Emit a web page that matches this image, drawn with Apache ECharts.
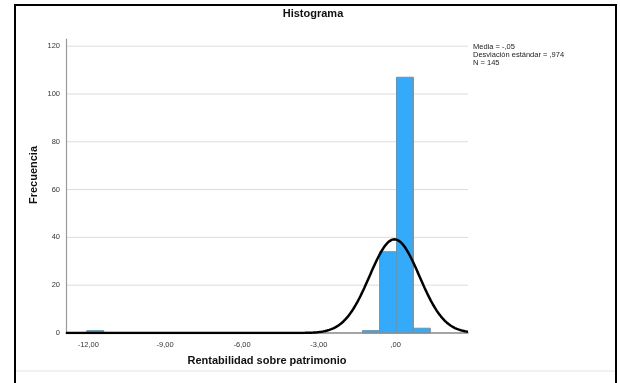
<!DOCTYPE html>
<html>
<head>
<meta charset="utf-8">
<script src="https://cdn.jsdelivr.net/npm/echarts@6/dist/echarts.min.js"></script>
<style>
  html, body { margin: 0; padding: 0; background: #fff; }
  #chart { width: 620px; height: 383px; }
</style>
</head>
<body>
<div id="chart"></div>
<script>
// Histogram bins: left edge of each bin and its count
const binStarts = [-12.06, -1.30, -0.63, 0.03, 0.69];
const binCounts = [1, 1, 34, 107, 2];
const binWidth = 0.66;

// Summary statistics shown in the side note and used for the normal curve
const media = -0.05;
const desviacion = 0.974;
const n = 145;

// Axis ticks
const xTickValues = [-12, -9, -6, -3, 0];
const xTickLabels = ['-12,00', '-9,00', '-6,00', '-3,00', ',00'];
const yTickValues = [0, 20, 40, 60, 80, 100, 120];

const xMin = -12.87, xMax = 2.82;

// Fitted normal curve scaled to the histogram (count per bin)
const curve = [];
const steps = 400;
for (let i = 0; i <= steps; i++) {
  const x = xMin + (xMax - xMin) * i / steps;
  const z = (x - media) / desviacion;
  const y = n * binWidth / (desviacion * Math.sqrt(2 * Math.PI)) * Math.exp(-0.5 * z * z);
  curve.push([x, y]);
}

const bars = binStarts.map((s, i) => [s, s + binWidth, binCounts[i]]);

const chart = echarts.init(document.getElementById('chart'), null, { renderer: 'canvas' });
const font = '"Liberation Sans", Arial, sans-serif';

chart.setOption({
  animation: false,
  backgroundColor: '#fff',
  grid: { left: 66, right: 152, top: 39, bottom: 50 },
  xAxis: {
    type: 'value',
    min: xMin,
    max: xMax,
    axisLine: { show: true, onZero: false, lineStyle: { color: '#888', width: 1.5 } },
    axisTick: { show: false },
    splitLine: { show: false },
    axisLabel: {
      customValues: xTickValues,
      formatter: v => xTickLabels[xTickValues.indexOf(v)],
      fontFamily: font, fontSize: 7.5, color: '#333', margin: 8
    }
  },
  yAxis: {
    type: 'value',
    min: 0,
    max: 123,
    axisLine: { show: true, onZero: false, lineStyle: { color: '#999', width: 1.2 } },
    axisTick: { show: false },
    axisLabel: {
      customValues: yTickValues,
      fontFamily: font, fontSize: 7.5, color: '#333', margin: 6
    },
    splitLine: { show: false }
  },
  series: [
    {
      // horizontal reference lines at each y tick
      type: 'custom',
      silent: true,
      z: 0,
      data: yTickValues.filter(v => v > 0).map(v => [v]),
      renderItem: (params, api) => {
        const p0 = api.coord([xMin, api.value(0)]);
        const p1 = api.coord([xMax, api.value(0)]);
        return {
          type: 'line',
          shape: { x1: p0[0], y1: p0[1], x2: p1[0], y2: p1[1] },
          style: { stroke: '#dcdcdc', lineWidth: 1 }
        };
      }
    },
    {
      type: 'custom',
      z: 2,
      data: bars,
      renderItem: (params, api) => {
        const a = api.coord([api.value(0), api.value(2)]);
        const b = api.coord([api.value(1), 0]);
        return {
          type: 'rect',
          shape: { x: a[0], y: a[1], width: b[0] - a[0], height: b[1] - a[1] },
          style: { fill: '#33abfa', stroke: '#8a8a8a', lineWidth: 1 }
        };
      }
    },
    {
      type: 'line',
      z: 3,
      data: curve,
      showSymbol: false,
      smooth: false,
      lineStyle: { color: '#000', width: 2.5 }
    }
  ],
  graphic: [
    {
      type: 'rect',
      shape: { x: 15, y: 5, width: 601, height: 390 },
      style: { fill: null, stroke: '#000', lineWidth: 2 },
      z: 10
    },
    {
      type: 'line',
      shape: { x1: 16, y1: 371, x2: 615, y2: 371 },
      style: { stroke: '#e4e4e4', lineWidth: 1 },
      z: 10
    },
    {
      type: 'text',
      x: 313, y: 14,
      style: {
        text: 'Histograma', fontFamily: font, fontSize: 11, fontWeight: 'bold',
        fill: '#111', align: 'center', verticalAlign: 'middle'
      }
    },
    {
      type: 'text',
      x: 473, y: 43,
      style: {
        text: 'Media = -,05\nDesviación estándar = ,974\nN = 145',
        fontFamily: font, fontSize: 7.5, lineHeight: 8, fill: '#222',
        align: 'left', verticalAlign: 'top'
      }
    },
    {
      type: 'text',
      x: 34, y: 175,
      rotation: Math.PI / 2,
      style: {
        text: 'Frecuencia', fontFamily: font, fontSize: 11, fontWeight: 'bold',
        fill: '#111', align: 'center', verticalAlign: 'middle'
      }
    },
    {
      type: 'text',
      x: 267, y: 361,
      style: {
        text: 'Rentabilidad sobre patrimonio', fontFamily: font, fontSize: 11, fontWeight: 'bold',
        fill: '#111', align: 'center', verticalAlign: 'middle'
      }
    }
  ]
});
</script>
</body>
</html>
